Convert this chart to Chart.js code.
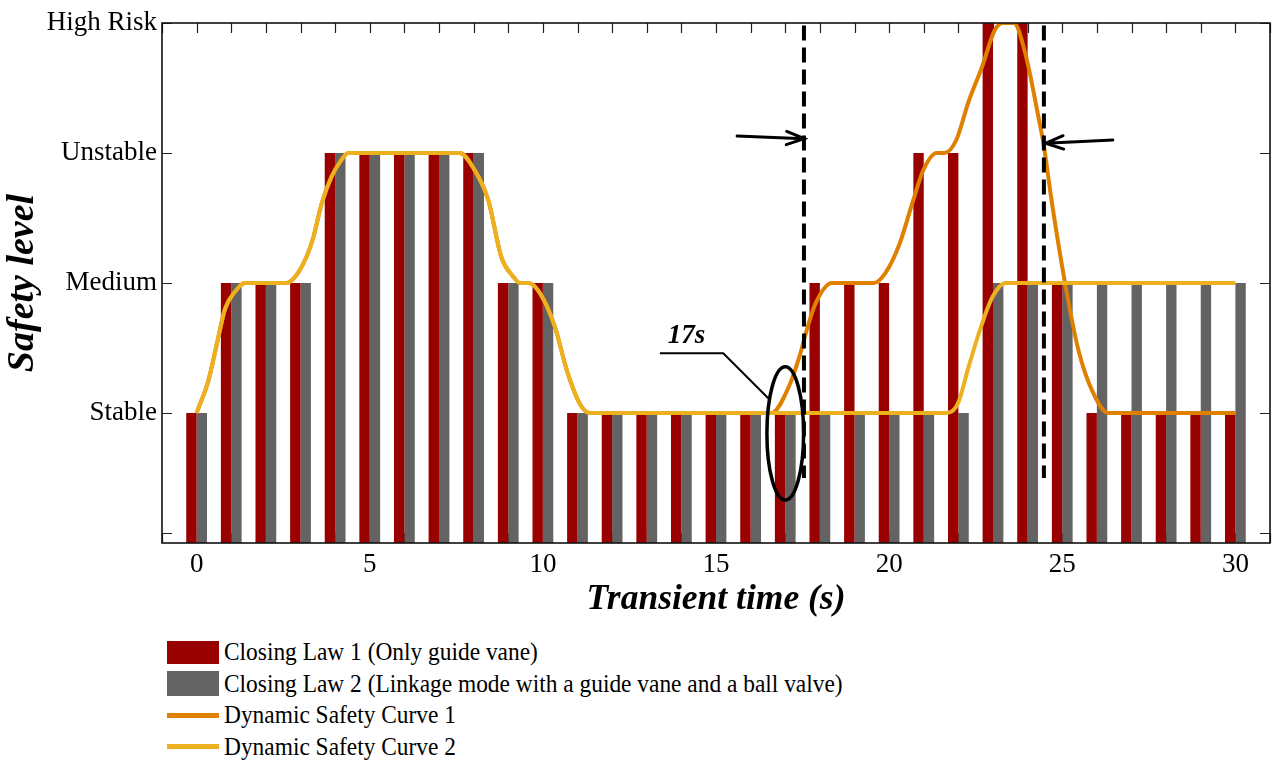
<!DOCTYPE html>
<html>
<head>
<meta charset="utf-8">
<script src="https://cdn.jsdelivr.net/npm/chart.js@4.4.1/dist/chart.umd.min.js"></script>
<style>
html,body{margin:0;padding:0;background:#fff;}
#wrap{position:relative;width:1272px;height:767px;overflow:hidden;}
#c{position:absolute;left:0;top:0;}
#legend{position:absolute;left:167px;top:636px;font-family:"Liberation Serif","Times New Roman",serif;font-size:26px;color:#000;}
.row{position:absolute;left:0;height:32px;display:flex;align-items:center;white-space:nowrap;}
.sw{width:52px;flex:none;}
.txt{display:inline-block;margin-left:5px;transform:scaleX(0.9);transform-origin:left center;}
</style>
</head>
<body>
<div id="wrap">
<canvas id="c" width="1272" height="625"></canvas>
<div id="legend"></div>
</div>
<script>
// ---- data ----
const times = [0,1,2,3,4,5,6,7,8,9,10,11,12,13,14,15,16,17,18,19,20,21,22,23,24,25,26,27,28,29,30];
const law1Levels = [1,2,2,2,3,3,3,3,3,2,2,1,1,1,1,1,1,1,2,2,2,3,3,4,4,2,1,1,1,1,1];
const law2Levels = [1,2,2,2,3,3,3,3,3,2,2,1,1,1,1,1,1,1,1,1,1,1,1,2,2,2,2,2,2,2,2];

const curve1Times  = [0,0.34,0.6,0.82,1.1,1.4,2.6,2.88,3.17,3.37,3.61,3.9,4.14,4.38,7.6,7.98,8.42,8.8,9.14,9.34,9.58,9.92,10.35,10.69,11.07,11.36,16.6,17.1,17.44,17.59,17.87,18.35,19.56,19.9,20.3,20.7,20.99,21.37,21.6,21.94,22.3,22.68,23.06,23.3,23.6,23.93,24.31,24.46,24.7,25.08,25.47,25.85,26.33,30];
const curve1Levels = [1,1.25,1.55,1.8,1.93,2,2,2.06,2.2,2.35,2.61,2.82,2.93,3,3,2.89,2.64,2.2,2.05,2,2,1.92,1.66,1.33,1.07,1,1,1.2,1.46,1.61,1.84,2,2,2.08,2.3,2.64,2.87,3,3,3.1,3.4,3.66,3.95,4,4,3.77,3.28,3.07,2.62,2.0,1.48,1.18,1,1];

const curve2Times  = [0,0.34,0.6,0.82,1.1,1.4,2.6,2.88,3.17,3.37,3.61,3.9,4.14,4.38,7.6,7.98,8.42,8.8,9.14,9.34,9.58,9.92,10.35,10.69,11.07,11.36,21.6,21.98,22.3,22.65,22.98,23.37,30];
const curve2Levels = [1,1.25,1.55,1.8,1.93,2,2,2.06,2.2,2.35,2.61,2.82,2.93,3,3,2.89,2.64,2.2,2.05,2,2,1.92,1.66,1.33,1.07,1,1,1.07,1.36,1.66,1.89,2,2];

const yTickValues = [0.08,1,2,3,4];
const yTickLabels = ['','Stable','Medium','Unstable','High Risk'];

const markerTimes = [17.54,24.47];
const markerTop = 3.98, markerBottom = 0.5;

const seriesLabels = ['Closing Law 1 (Only guide vane)','Closing Law 2 (Linkage mode with a guide vane and a ball valve)','Dynamic Safety Curve 1','Dynamic Safety Curve 2'];
const colors = {law1:'#990000', law2:'#636363', c1:'#E08000', c2:'#EDB120'};

// annotations (data coordinates)
const arrows = [ {from:[15.61,3.13], to:[17.55,3.11]}, {from:[26.46,3.10], to:[24.52,3.075]} ];
const ellipseNote = {cx:17.0, cy:0.843, rx:0.53, ry:0.513};
const noteText = {text:'17s', x:14.15, y:1.59};
const noteLeader = [[13.38,1.46],[15.21,1.46],[16.56,1.10]];

// ---- chart ----
const serif = '"Liberation Serif","Times New Roman",serif';
const zip = (xs, ys) => xs.map((x,i)=>({x:x, y:ys[i]}));

const annot = {
  id:'annot',
  beforeDatasetsDraw(chart){
    const {ctx, chartArea:a, scales:{x,y}} = chart;
    ctx.save();
    ctx.strokeStyle = '#222'; ctx.lineWidth = 1.2;
    ctx.beginPath();
    x.ticks.forEach(t=>{ const px = Math.round(x.getPixelForValue(t.value))+0.5;
      ctx.moveTo(px,a.top); ctx.lineTo(px,a.top+10);
      ctx.moveTo(px,a.bottom); ctx.lineTo(px,a.bottom-10); });
    y.ticks.forEach(t=>{ const py = Math.round(y.getPixelForValue(t.value))+0.5;
      ctx.moveTo(a.left,py); ctx.lineTo(a.left+10,py);
      ctx.moveTo(a.right,py); ctx.lineTo(a.right-10,py); });
    ctx.stroke();
    ctx.restore();
  },
  afterDatasetsDraw(chart){
    const {ctx, chartArea:a, scales:{x,y}} = chart;
    ctx.save();
    // frame
    ctx.strokeStyle = '#111'; ctx.lineWidth = 1.6;
    ctx.strokeRect(a.left, a.top, a.right-a.left, a.bottom-a.top);
    // arrows
    ctx.strokeStyle = '#000'; ctx.lineWidth = 3; ctx.lineCap = 'round';
    arrows.forEach(ar=>{
      const x0=x.getPixelForValue(ar.from[0]), y0=y.getPixelForValue(ar.from[1]);
      const x1=x.getPixelForValue(ar.to[0]), y1=y.getPixelForValue(ar.to[1]);
      const ang = Math.atan2(y1-y0, x1-x0), L = 19, w = 0.36;
      ctx.beginPath();
      ctx.moveTo(x0,y0); ctx.lineTo(x1,y1);
      ctx.moveTo(x1 - L*Math.cos(ang-w), y1 - L*Math.sin(ang-w)); ctx.lineTo(x1,y1);
      ctx.lineTo(x1 - L*Math.cos(ang+w), y1 - L*Math.sin(ang+w));
      ctx.stroke();
    });
    // ellipse
    const ecx = x.getPixelForValue(ellipseNote.cx), ecy = y.getPixelForValue(ellipseNote.cy);
    const erx = Math.abs(x.getPixelForValue(ellipseNote.cx+ellipseNote.rx)-ecx);
    const ery = Math.abs(y.getPixelForValue(ellipseNote.cy+ellipseNote.ry)-ecy);
    ctx.lineWidth = 3.5;
    ctx.beginPath(); ctx.ellipse(ecx, ecy, erx, ery, 0, 0, Math.PI*2); ctx.stroke();
    // leader
    ctx.lineWidth = 2; ctx.lineCap = 'butt';
    ctx.beginPath();
    noteLeader.forEach((p,i)=>{ const px=x.getPixelForValue(p[0]), py=y.getPixelForValue(p[1]); i?ctx.lineTo(px,py):ctx.moveTo(px,py); });
    ctx.stroke();
    // text
    ctx.fillStyle = '#000';
    ctx.font = 'italic bold 27px ' + serif;
    ctx.textAlign = 'center'; ctx.textBaseline = 'middle';
    ctx.fillText(noteText.text, x.getPixelForValue(noteText.x), y.getPixelForValue(noteText.y));
    ctx.restore();
  }
};

const datasets = [
  {type:'line', label:'m1', data:[{x:markerTimes[0],y:markerTop},{x:markerTimes[0],y:markerBottom}], borderColor:'#000', borderWidth:4, borderDash:[15,7], pointRadius:0, order:0},
  {type:'line', label:'m2', data:[{x:markerTimes[1],y:markerTop},{x:markerTimes[1],y:markerBottom}], borderColor:'#000', borderWidth:4, borderDash:[15,7], pointRadius:0, order:0},
  {type:'line', label:seriesLabels[3], data:zip(curve2Times,curve2Levels), borderColor:colors.c2, borderWidth:4, pointRadius:0, cubicInterpolationMode:'monotone', order:1},
  {type:'line', label:seriesLabels[2], data:zip(curve1Times,curve1Levels), borderColor:colors.c1, borderWidth:4, pointRadius:0, cubicInterpolationMode:'monotone', order:2},
  {type:'bar', label:seriesLabels[0], data:zip(times,law1Levels), backgroundColor:colors.law1, categoryPercentage:0.6, barPercentage:1.0, order:10},
  {type:'bar', label:seriesLabels[1], data:zip(times,law2Levels), backgroundColor:colors.law2, categoryPercentage:0.6, barPercentage:1.0, order:10}
];

new Chart(document.getElementById('c'), {
  type:'bar',
  data:{datasets},
  options:{
    responsive:false, animation:false, devicePixelRatio:1,
    layout:{padding:{left:0,right:2,top:23,bottom:0}},
    plugins:{legend:{display:false}, tooltip:{enabled:false}},
    scales:{
      x:{type:'linear', min:-1, max:31, offset:false,
         grid:{display:false, drawTicks:false}, border:{display:false},
         ticks:{stepSize:1, autoSkip:false, maxRotation:0, padding:6, color:'#000',
                font:{family:serif, size:27},
                callback:(v)=> (v>=0 && v<=30 && v%5===0) ? String(v) : ''},
         title:{display:true, text:'Transient time (s)', color:'#000', padding:{top:0,bottom:4},
                font:{family:serif, size:35.5, style:'italic', weight:'bold'}},
         afterFit:(s)=>{ s.height = 82; s.paddingLeft = 0; s.paddingRight = 0; }
      },
      y:{type:'linear', min:0, max:4,
         grid:{display:false, drawTicks:false}, border:{display:false},
         afterBuildTicks:(s)=>{ s.ticks = yTickValues.map(v=>({value:v})); },
         ticks:{padding:5, color:'#000', font:{family:serif, size:27},
                callback:(v)=>{ const i = yTickValues.indexOf(v); return i>=0 ? yTickLabels[i] : ''; }},
         title:{display:true, text:'Safety level', color:'#000', padding:{top:0,bottom:0},
                font:{family:serif, size:38, style:'italic', weight:'bold'}},
         afterFit:(s)=>{ s.width = 162; }
      }
    }
  },
  plugins:[annot]
});

// legend (HTML text)
const legendItems = [
  {label:seriesLabels[0], color:colors.law1, h:23},
  {label:seriesLabels[1], color:colors.law2, h:25},
  {label:seriesLabels[2], color:colors.c1, h:5},
  {label:seriesLabels[3], color:colors.c2, h:5}
];
const lg = document.getElementById('legend');
legendItems.forEach((it,i)=>{
  const row = document.createElement('div');
  row.className='row'; row.style.top = (i*31.5)+'px';
  const sw = document.createElement('div'); sw.className='sw';
  sw.style.height = it.h+'px'; sw.style.background = it.color;
  const tx = document.createElement('span'); tx.className='txt'; tx.textContent = it.label;
  row.appendChild(sw); row.appendChild(tx); lg.appendChild(row);
});
</script>
</body>
</html>
